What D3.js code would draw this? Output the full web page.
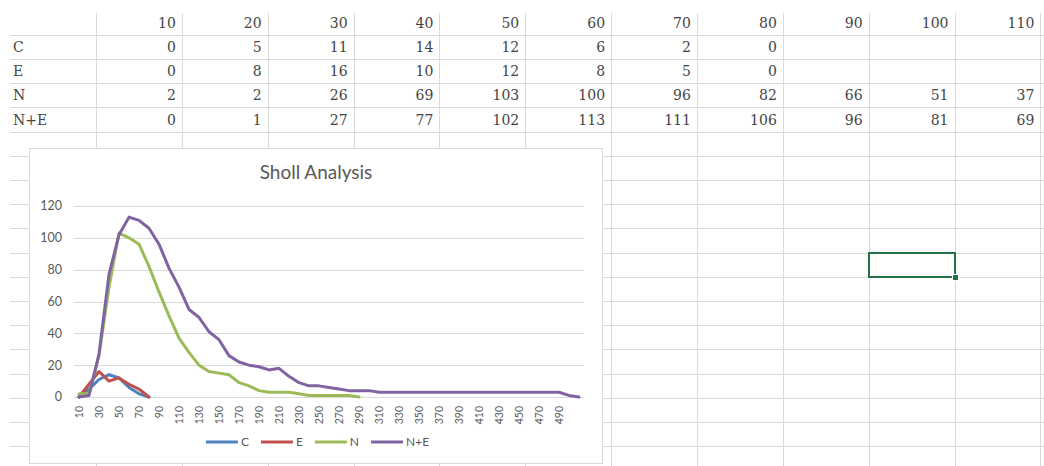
<!DOCTYPE html>
<html>
<head>
<meta charset="utf-8">
<script src="https://cdn.jsdelivr.net/npm/d3@7/dist/d3.min.js"></script>
<style>
  body { margin: 0; background: #fff; }
  svg { display: block; }
</style>
</head>
<body>
<svg width="1044" height="466"></svg>
<script>
// radius steps (x categories) and the labels Excel actually prints on the axis
let categories = [10, 20, 30, 40, 50, 60, 70, 80, 90, 100, 110, 120, 130, 140, 150, 160, 170, 180, 190, 200,
    210, 220, 230, 240, 250, 260, 270, 280, 290, 300, 310, 320, 330, 340, 350, 360, 370, 380, 390, 400,
    410, 420, 430, 440, 450, 460, 470, 480, 490, 500, 510]
let tickLabels = [10, 30, 50, 70, 90, 110, 130, 150, 170, 190, 210, 230, 250, 270, 290, 310, 330, 350, 370,
    390, 410, 430, 450, 470, 490]
let yTicks = [0, 20, 40, 60, 80, 100, 120]

// intersections per radius
let seriesC = [0, 5, 11, 14, 12, 6, 2, 0]
let seriesE = [0, 8, 16, 10, 12, 8, 5, 0]
let seriesN = [2, 2, 26, 69, 103, 100, 96, 82, 66, 51, 37, 28, 20, 16, 15, 14, 9, 7, 4, 3,
    3, 3, 2, 1, 1, 1, 1, 1, 0]
let seriesNE = [0, 1, 27, 77, 102, 113, 111, 106, 96, 81, 69, 55, 50, 41, 36, 26, 22, 20, 19, 17,
    18, 13, 9, 7, 7, 6, 5, 4, 4, 4, 3, 3, 3, 3, 3, 3, 3, 3, 3, 3,
    3, 3, 3, 3, 3, 3, 3, 3, 3, 1, 0]

let seriesNames = ["C", "E", "N", "N+E"]
let seriesColors = ["#4f81bd", "#c0504d", "#9bbb59", "#8064a2"]
let tableColumns = 11

let series = [seriesC, seriesE, seriesN, seriesNE].map((values, i) => ({
    name: seriesNames[i],
    color: seriesColors[i],
    values: values
}))

let svg = d3.select("svg")
let gridColor = "#dadada"

// ---- spreadsheet background ----
let colW = 85.85, rowH = 24.2
let colX = d3.range(12).map(i => 96 + i * colW)
let rowY = d3.range(1, 19).map(i => 10.6 + i * rowH)

let sheet = svg.append("g")
sheet.selectAll(".hline")
    .data(rowY)
    .join("line")
    .attr("class", "hline")
    .attr("x1", 10).attr("x2", 1044)
    .attr("y1", d => Math.round(d) + 0.5).attr("y2", d => Math.round(d) + 0.5)
    .attr("stroke", gridColor)

sheet.selectAll(".vline")
    .data(colX)
    .join("line")
    .attr("class", "vline")
    .attr("x1", d => Math.round(d) + 0.5).attr("x2", d => Math.round(d) + 0.5)
    .attr("y1", 13).attr("y2", 466)
    .attr("stroke", gridColor)

let cellFont = "'DejaVu Serif', serif"
let cellColor = "#444"
let rowCenter = i => 10.6 + rowH * i + rowH / 2 + 5

// header row with the radii
sheet.selectAll(".head")
    .data(categories.slice(0, tableColumns))
    .join("text")
    .attr("class", "head")
    .attr("x", (d, i) => colX[i + 1] - 6)
    .attr("y", rowCenter(0))
    .attr("text-anchor", "end")
    .style("font-family", cellFont)
    .style("font-size", "14px")
    .attr("fill", cellColor)
    .text(d => d)

series.forEach((s, r) => {
    sheet.append("text")
        .attr("x", 13)
        .attr("y", rowCenter(r + 1))
        .style("font-family", cellFont)
        .style("font-size", "14px")
        .attr("fill", cellColor)
        .text(s.name)

    sheet.selectAll(".cell" + r)
        .data(s.values.slice(0, tableColumns))
        .join("text")
        .attr("x", (d, i) => colX[i + 1] - 6)
        .attr("y", rowCenter(r + 1))
        .attr("text-anchor", "end")
        .style("font-family", cellFont)
        .style("font-size", "14px")
        .attr("fill", cellColor)
        .text(d => d)
})

// selected cell
sheet.append("rect")
    .attr("x", 869).attr("y", 253)
    .attr("width", 86).attr("height", 24)
    .attr("fill", "none")
    .attr("stroke", "#217346")
    .attr("stroke-width", 2)
sheet.append("rect")
    .attr("x", 952.5).attr("y", 274.5)
    .attr("width", 6).attr("height", 6)
    .attr("fill", "#217346")
    .attr("stroke", "#fff")
    .attr("stroke-width", 1)

// ---- chart object ----
let chartFont = "Lato, 'Open Sans', sans-serif"
let labelColor = "#595959"
let chart = svg.append("g")

chart.append("rect")
    .attr("x", 29.5).attr("y", 148.5)
    .attr("width", 573).attr("height", 315)
    .attr("fill", "#fff")
    .attr("stroke", "#d9d9d9")

let x = d3.scaleBand().domain(categories).range([74, 584])
let y = d3.scaleLinear().domain([0, 120]).range([397, 206])
let cx = d => x(d) + x.bandwidth() / 2

chart.append("text")
    .attr("x", 316)
    .attr("y", 179)
    .attr("text-anchor", "middle")
    .style("font-family", chartFont)
    .style("font-size", "19px")
    .attr("fill", labelColor)
    .text("Sholl Analysis")

// horizontal gridlines
chart.selectAll(".grid")
    .data(yTicks)
    .join("line")
    .attr("class", "grid")
    .attr("x1", 74).attr("x2", 584)
    .attr("y1", d => Math.round(y(d)) + 0.5).attr("y2", d => Math.round(y(d)) + 0.5)
    .attr("stroke", "#d9d9d9")

chart.selectAll(".ytick")
    .data(yTicks)
    .join("text")
    .attr("class", "ytick")
    .attr("x", 62)
    .attr("y", d => y(d))
    .attr("dy", "0.35em")
    .attr("text-anchor", "end")
    .style("font-family", chartFont)
    .style("font-size", "12.5px")
    .attr("fill", labelColor)
    .text(d => d)

chart.selectAll(".xtick")
    .data(tickLabels)
    .join("text")
    .attr("class", "xtick")
    .attr("transform", d => "translate(" + cx(d) + ",406) rotate(-90)")
    .attr("dy", "0.35em")
    .attr("text-anchor", "end")
    .style("font-family", chartFont)
    .style("font-size", "10.5px")
    .attr("fill", labelColor)
    .text(d => d)

let line = d3.line()
    .x((d, i) => cx(categories[i]))
    .y(d => y(d))

chart.selectAll(".series")
    .data(series)
    .join("path")
    .attr("class", "series")
    .attr("d", d => line(d.values))
    .attr("fill", "none")
    .attr("stroke", d => d.color)
    .attr("stroke-width", 3)
    .attr("stroke-linejoin", "round")
    .attr("stroke-linecap", "round")

// legend, centred under the plot
let legend = chart.append("g")
let lx = 0
series.forEach(s => {
    let item = legend.append("g").attr("transform", "translate(" + lx + ",0)")
    item.append("line")
        .attr("x1", 0).attr("x2", 32)
        .attr("y1", 0).attr("y2", 0)
        .attr("stroke", s.color)
        .attr("stroke-width", 3)
    let t = item.append("text")
        .attr("x", 35)
        .attr("dy", "0.35em")
        .style("font-family", chartFont)
        .style("font-size", "12px")
        .attr("fill", labelColor)
        .text(s.name)
    lx += 35 + t.node().getComputedTextLength() + 12
})
legend.attr("transform", "translate(" + (317.5 - (lx - 12) / 2) + ",442)")
</script>
</body>
</html>
